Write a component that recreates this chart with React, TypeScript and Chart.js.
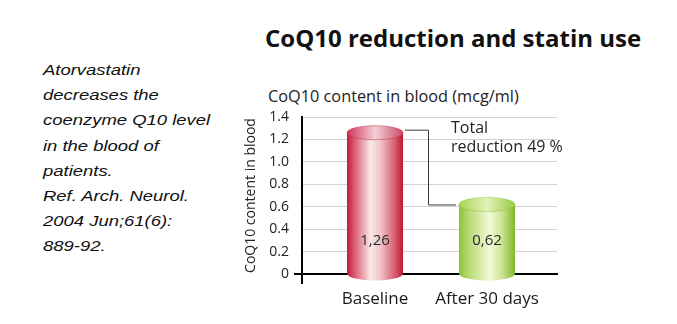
import React, { useEffect, useRef } from "react";
import { Chart, registerables } from "chart.js";

Chart.register(...registerables);

const categories = ["Baseline", "After 30 days"];
const values = [1.26, 0.62];
const valueLabels = ["1,26", "0,62"];
const yMax = 1.4;
const yStep = 0.2;
const chartTitle = "CoQ10 reduction and statin use";
const chartSubtitle = "CoQ10 content in blood (mcg/ml)";
const yAxisTitle = "CoQ10 content in blood";
const annotationLines = ["Total", "reduction 49 %"];
const noteLines = [
  "Atorvastatin",
  "decreases the",
  "coenzyme Q10 level",
  "in the blood of",
  "patients.",
  "Ref. Arch. Neurol.",
  "2004 Jun;61(6):",
  "889-92.",
];

const FONT = "'Open Sans', 'Noto Sans', sans-serif";

const bodyStops: Array<Array<[number, string]>> = [
  [
    [0, "#c21c3c"],
    [0.12, "#d8546c"],
    [0.42, "#f9e7e7"],
    [0.6, "#f0c4c8"],
    [0.86, "#d65b6d"],
    [1, "#bd1836"],
  ],
  [
    [0, "#8ec03a"],
    [0.15, "#b2d86c"],
    [0.55, "#f2f9d8"],
    [0.75, "#d0e69c"],
    [1, "#84b72a"],
  ],
];
const topStops: Array<Array<[number, string]>> = [
  [
    [0, "#d0345a"],
    [0.5, "#f3d0d6"],
    [1, "#cc4b66"],
  ],
  [
    [0, "#a8d452"],
    [0.5, "#e4f2b8"],
    [1, "#9acb44"],
  ],
];

const cylinderPlugin = {
  id: "cylinders",
  beforeDatasetsDraw(chart: any) {
    const { ctx, chartArea } = chart;
    ctx.save();
    ctx.strokeStyle = "#000";
    ctx.lineWidth = 2;
    ctx.beginPath();
    ctx.moveTo(chartArea.left - 8, chartArea.bottom);
    ctx.lineTo(chartArea.left, chartArea.bottom);
    ctx.moveTo(chartArea.left, chartArea.bottom);
    ctx.lineTo(chartArea.left, chartArea.bottom + 10);
    ctx.stroke();
    ctx.restore();
  },
  afterDatasetsDraw(chart: any) {
    const { ctx } = chart;
    const meta = chart.getDatasetMeta(0);
    const ry = 7;
    ctx.save();
    meta.data.forEach((bar: any, i: number) => {
      const { x, y, base, width } = bar.getProps(["x", "y", "base", "width"], true);
      const rx = width / 2;
      const left = x - rx;
      const right = x + rx;
      const g = ctx.createLinearGradient(left, 0, right, 0);
      bodyStops[i].forEach(([o, c]) => g.addColorStop(o, c));
      ctx.beginPath();
      ctx.moveTo(left, y);
      ctx.lineTo(left, base);
      ctx.ellipse(x, base, rx, ry, 0, Math.PI, 0, true);
      ctx.lineTo(right, y);
      ctx.closePath();
      ctx.fillStyle = g;
      ctx.fill();
      const t = ctx.createLinearGradient(left, 0, right, 0);
      topStops[i].forEach(([o, c]) => t.addColorStop(o, c));
      ctx.beginPath();
      ctx.ellipse(x, y, rx, ry, 0, 0, Math.PI * 2);
      ctx.fillStyle = t;
      ctx.fill();
      ctx.lineWidth = 0.8;
      ctx.strokeStyle = i === 0 ? "rgba(190,40,70,0.6)" : "rgba(140,190,60,0.6)";
      ctx.stroke();

      ctx.fillStyle = "#2a2a2a";
      ctx.font = `15px ${FONT}`;
      ctx.textAlign = "center";
      ctx.textBaseline = "middle";
      ctx.fillText(valueLabels[i], x, base - 33);
    });

    if (meta.data.length >= 2) {
      const b1 = meta.data[0].getProps(["x", "y", "width"], true);
      const b2 = meta.data[1].getProps(["x", "y", "width"], true);
      const x1 = b1.x + b1.width / 2 + 2;
      const xm = x1 + 23;
      const x2 = b2.x - b2.width / 2 - 3;
      const y1 = b1.y - 3;
      const y2 = b2.y;
      ctx.strokeStyle = "#3a3a3a";
      ctx.lineWidth = 1;
      ctx.beginPath();
      ctx.moveTo(x1, y1 + 0.5);
      ctx.lineTo(Math.round(xm) + 0.5, y1 + 0.5);
      ctx.lineTo(Math.round(xm) + 0.5, y2 + 0.5);
      ctx.lineTo(x2, y2 + 0.5);
      ctx.stroke();

      ctx.fillStyle = "#222";
      ctx.font = `16px ${FONT}`;
      ctx.textAlign = "left";
      ctx.textBaseline = "alphabetic";
      annotationLines.forEach((line, k) => {
        ctx.fillText(line, xm + 23, y1 + 3 + k * 19);
      });
    }
    ctx.restore();
  },
};

export default function App() {
  const canvasRef = useRef<HTMLCanvasElement | null>(null);

  useEffect(() => {
    document.body.style.margin = "0";
    const canvas = canvasRef.current;
    if (!canvas) return;
    const chart = new Chart(canvas, {
      type: "bar",
      data: {
        datasets: [
          {
            data: values.map((v, i) => ({ x: i, y: v })),
            backgroundColor: "rgba(0,0,0,0)",
            borderWidth: 0,
            barThickness: 56,
          },
        ],
      },
      options: {
        animation: false,
        responsive: false,
        devicePixelRatio: 1,
        layout: { padding: { left: 230, right: 120, top: 117, bottom: 0 } },
        plugins: {
          legend: { display: false },
          tooltip: { enabled: false },
          title: { display: false },
        },
        scales: {
          x: {
            type: "linear",
            min: -0.652,
            max: 1.625,
            offset: false,
            bounds: "data",
            grid: { display: false, offset: false },
            border: { display: true, color: "#000", width: 2 },
            afterBuildTicks: (scale: any) => {
              scale.ticks = categories.map((_, i) => ({ value: i }));
            },
            afterFit: (scale: any) => {
              scale.height = 50;
            },
            ticks: {
              autoSkip: false,
              maxRotation: 0,
              padding: 7,
              color: "#1a1a1a",
              font: { family: FONT, size: 17 },
              callback: (v: any) => categories[v as number] ?? "",
            },
          },
          y: {
            min: 0,
            max: yMax,
            grid: { color: "#d2d2d2", lineWidth: 1, drawTicks: false },
            border: { display: true, color: "#000", width: 2 },
            afterFit: (scale: any) => {
              scale.width = 72;
            },
            ticks: {
              stepSize: yStep,
              padding: 13,
              color: "#222",
              font: { family: FONT, size: 14 },
              callback: (v: any) => (Number(v) === 0 ? "0" : Number(v).toFixed(1)),
            },
            title: {
              display: true,
              text: yAxisTitle,
              color: "#222",
              font: { family: FONT, size: 14 },
              padding: { top: 13, bottom: 0 },
            },
          },
        },
      },
      plugins: [cylinderPlugin],
    } as any);
    return () => chart.destroy();
  }, []);

  return (
    <div style={{ position: "fixed", left: 0, top: 0, width: 677, height: 324, background: "#fff", overflow: "hidden" }}>
      <div
        style={{
          position: "absolute",
          left: 43,
          top: 57,
          fontFamily: "'Liberation Sans', Arial, sans-serif",
          fontStyle: "italic",
          fontSize: "15.5px",
          lineHeight: "25.2px",
          color: "#111",
          transform: "scaleX(1.19)",
          transformOrigin: "left top",
          whiteSpace: "nowrap",
        }}
      >
        {noteLines.map((l, i) => (
          <div key={i}>{l}</div>
        ))}
      </div>
      <div
        style={{
          position: "absolute",
          left: 265,
          top: 24,
          fontFamily: FONT,
          fontWeight: 700,
          fontSize: "24px",
          lineHeight: "28px",
          color: "#111",
          whiteSpace: "nowrap",
        }}
      >
        {chartTitle}
      </div>
      <div
        style={{
          position: "absolute",
          left: 268,
          top: 86,
          fontFamily: FONT,
          fontSize: "16.3px",
          lineHeight: "20px",
          color: "#222",
          whiteSpace: "nowrap",
        }}
      >
        {chartSubtitle}
      </div>
      <canvas
        ref={canvasRef}
        width={677}
        height={324}
        style={{ position: "absolute", left: 0, top: 0, width: 677, height: 324 }}
      />
    </div>
  );
}
